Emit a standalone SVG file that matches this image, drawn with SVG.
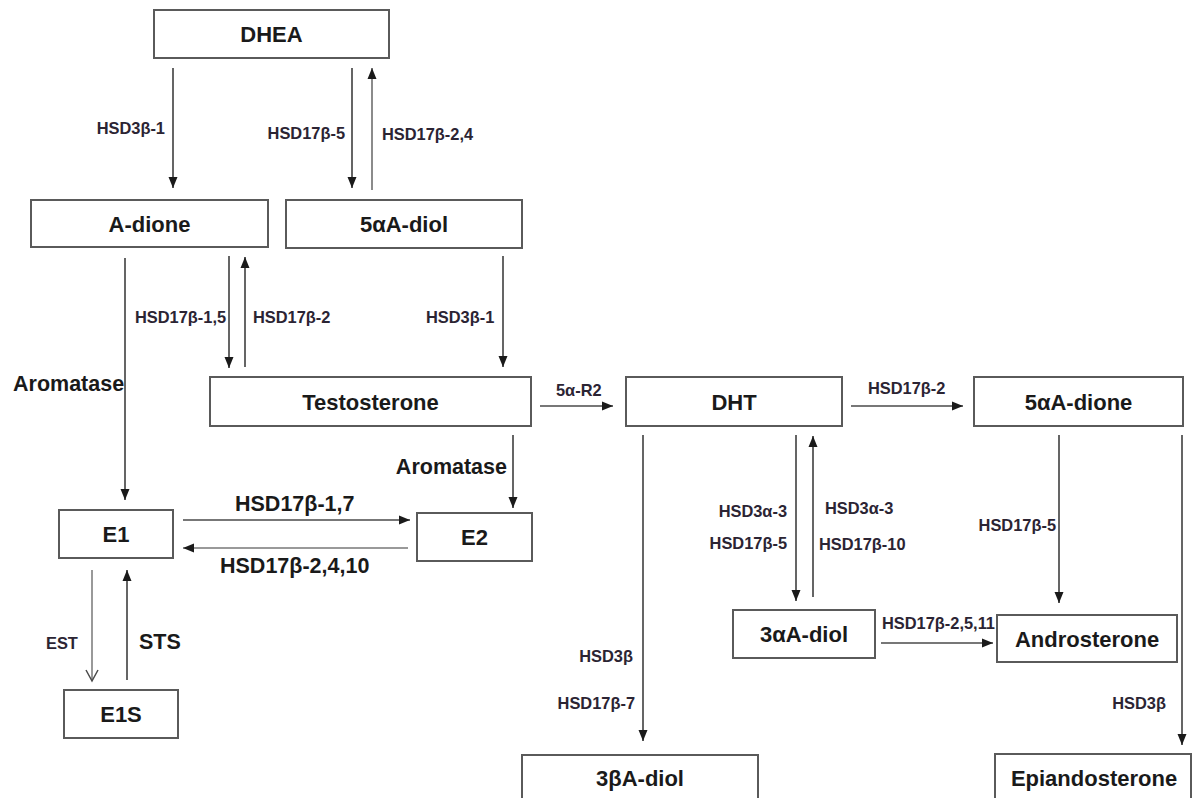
<svg xmlns="http://www.w3.org/2000/svg" width="1196" height="798" viewBox="0 0 1196 798">
<style>
.box{fill:#fff;stroke:#5a5a5a;stroke-width:2}
.bt{font-family:"Liberation Sans",Arial,sans-serif;font-weight:bold;font-size:22px;fill:#1a1a1a;text-anchor:middle}
.lb{font-family:"Liberation Sans",Arial,sans-serif;font-weight:bold;font-size:16.4px;fill:#2b2433}
.lg{font-family:"Liberation Sans",Arial,sans-serif;font-weight:bold;font-size:21.5px;fill:#1a1a1a}
.c{stroke:#4a4a4a;stroke-width:1.7;fill:none;marker-end:url(#ah)}
.o{stroke:#4a4a4a;stroke-width:1.5;fill:none;marker-end:url(#av)}
.e{text-anchor:end}
</style>
<defs>
<marker id="ah" markerUnits="userSpaceOnUse" markerWidth="12" markerHeight="10" viewBox="0 0 12 10" refX="11" refY="5" orient="auto">
<path d="M0,0.5 L11,5 L0,9.5 Z" fill="#1a1a1a"/>
</marker>
<marker id="av" markerUnits="userSpaceOnUse" markerWidth="14" markerHeight="14" viewBox="0 0 14 14" refX="12" refY="7" orient="auto">
<path d="M1,1 L12,7 L1,13" fill="none" stroke="#4a4a4a" stroke-width="1.5"/>
</marker>
</defs>
<rect width="1196" height="798" fill="#fff"/>
<g id="connectors">
<line class="c" x1="173" y1="68" x2="173" y2="188"/>
<line class="c" x1="352" y1="68" x2="352" y2="188"/>
<line class="c" x1="372" y1="190" x2="372" y2="68" style="stroke:#777"/>
<line class="c" x1="125" y1="258" x2="125" y2="500"/>
<line class="c" x1="229" y1="256" x2="229" y2="368"/>
<line class="c" x1="245" y1="367" x2="245" y2="257"/>
<line class="c" x1="503" y1="256" x2="503" y2="367"/>
<line class="c" x1="540" y1="406" x2="613" y2="406"/>
<line class="c" x1="851" y1="406" x2="963" y2="406"/>
<line class="c" x1="513" y1="435" x2="513" y2="508"/>
<line class="c" x1="183" y1="520" x2="410" y2="520"/>
<line class="c" x1="408" y1="548" x2="183" y2="548" style="stroke:#777"/>
<line class="o" x1="92" y1="570" x2="92" y2="681" style="stroke:#777"/>
<line class="c" x1="127" y1="680" x2="127" y2="570"/>
<line class="c" x1="643" y1="435" x2="643" y2="741"/>
<line class="c" x1="796" y1="435" x2="796" y2="601"/>
<line class="c" x1="813" y1="597" x2="813" y2="436"/>
<line class="c" x1="1059" y1="435" x2="1059" y2="603"/>
<line class="c" x1="881" y1="643" x2="993" y2="643"/>
<line class="c" x1="1182" y1="435" x2="1182" y2="745"/>
</g>
<g id="labels">
<text class="lb e" x="165" y="133.5">HSD3β-1</text>
<text class="lb e" x="345" y="138.5">HSD17β-5</text>
<text class="lb" x="382" y="140">HSD17β-2,4</text>
<text class="lb" x="135" y="322.5">HSD17β-1,5</text>
<text class="lb" x="253" y="322.5">HSD17β-2</text>
<text class="lb" x="426" y="322.5">HSD3β-1</text>
<text class="lg" x="13" y="390.5">Aromatase</text>
<text class="lb" x="556" y="395.5">5α-R2</text>
<text class="lb" x="868" y="393.5">HSD17β-2</text>
<text class="lg e" x="507" y="473.5">Aromatase</text>
<text class="lg" x="235" y="510.5">HSD17β-1,7</text>
<text class="lg" x="220" y="572.5">HSD17β-2,4,10</text>
<text class="lb" x="46" y="648.5">EST</text>
<text class="lg" x="139" y="648.5">STS</text>
<text class="lb e" x="787" y="516.5">HSD3α-3</text>
<text class="lb e" x="787" y="548.5">HSD17β-5</text>
<text class="lb" x="825" y="513.5">HSD3α-3</text>
<text class="lb" x="819" y="549.5">HSD17β-10</text>
<text class="lb e" x="1056" y="530.5">HSD17β-5</text>
<text class="lb" x="882" y="628.5">HSD17β-2,5,11</text>
<text class="lb e" x="633" y="661.5">HSD3β</text>
<text class="lb e" x="635" y="708.5">HSD17β-7</text>
<text class="lb e" x="1166" y="708.5">HSD3β</text>
</g>
<g id="DHEA"><rect class="box" x="154" y="10" width="235" height="48"/><text class="bt" x="271.5" y="42">DHEA</text></g>
<g id="A-dione"><rect class="box" x="31" y="200" width="237" height="47"/><text class="bt" x="149.5" y="231.5">A-dione</text></g>
<g id="5aA-diol"><rect class="box" x="286" y="200" width="236" height="48"/><text class="bt" x="404" y="232">5αA-diol</text></g>
<g id="Testosterone"><rect class="box" x="210" y="377" width="321" height="49"/><text class="bt" x="370.5" y="409.5">Testosterone</text></g>
<g id="DHT"><rect class="box" x="626" y="377" width="216" height="49"/><text class="bt" x="734" y="409.5">DHT</text></g>
<g id="5aA-dione"><rect class="box" x="974" y="377" width="209" height="49"/><text class="bt" x="1078.5" y="409.5">5αA-dione</text></g>
<g id="E1"><rect class="box" x="59" y="510" width="114" height="48"/><text class="bt" x="116" y="542">E1</text></g>
<g id="E2"><rect class="box" x="417" y="513" width="115" height="48"/><text class="bt" x="474.5" y="545">E2</text></g>
<g id="E1S"><rect class="box" x="64" y="690" width="114" height="48"/><text class="bt" x="121" y="722">E1S</text></g>
<g id="3aA-diol"><rect class="box" x="733" y="610" width="142" height="48"/><text class="bt" x="804" y="642">3αA-diol</text></g>
<g id="Androsterone"><rect class="box" x="997" y="615" width="180" height="47"/><text class="bt" x="1087" y="646.5">Androsterone</text></g>
<g id="3bA-diol"><rect class="box" x="522" y="755" width="236" height="60"/><text class="bt" x="640" y="786">3βA-diol</text></g>
<g id="Epiandosterone"><rect class="box" x="995" y="754" width="196" height="60"/><text class="bt" x="1094" y="786">Epiandosterone</text></g>
</svg>
